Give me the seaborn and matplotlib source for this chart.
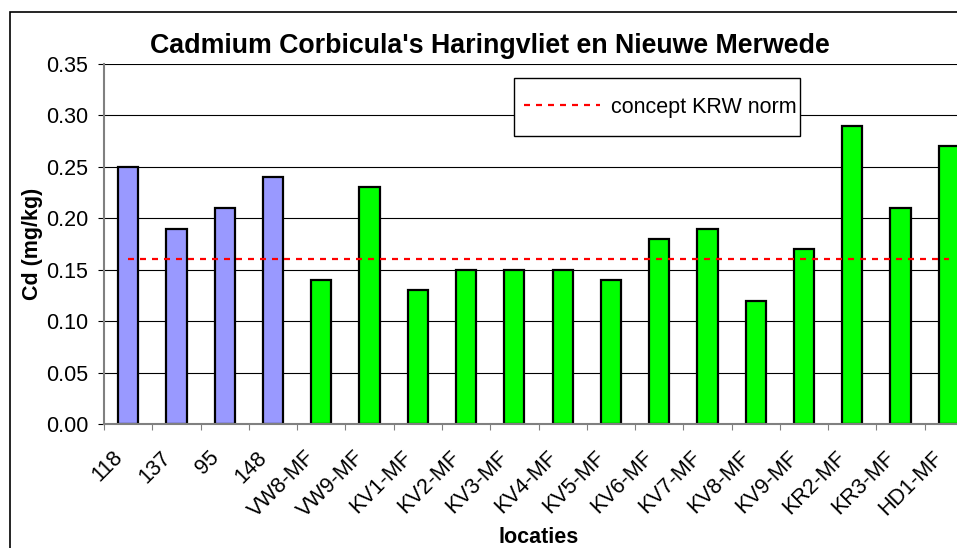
import matplotlib
matplotlib.use("Agg")
import matplotlib.pyplot as plt
import matplotlib.transforms as mtransforms
from matplotlib.patches import Rectangle
from matplotlib.lines import Line2D
import seaborn as sns
import pandas as pd

locaties = ["118", "137", "95", "148", "VW8-MF", "VW9-MF", "KV1-MF", "KV2-MF",
            "KV3-MF", "KV4-MF", "KV5-MF", "KV6-MF", "KV7-MF", "KV8-MF", "KV9-MF",
            "KR2-MF", "KR3-MF", "HD1-MF"]
cd = [0.25, 0.19, 0.21, 0.24, 0.14, 0.23, 0.13, 0.15, 0.15, 0.15, 0.14, 0.18,
      0.19, 0.12, 0.17, 0.29, 0.21, 0.27]
groep = ["Haringvliet"] * 4 + ["Nieuwe Merwede"] * 14
krw_norm = 0.16
kleuren = {"Haringvliet": "#9999FF", "Nieuwe Merwede": "#00FF00"}

df = pd.DataFrame({"locatie": locaties, "cd": cd, "groep": groep})

sns.set_style("white")
plt.rcParams["font.family"] = ["Liberation Sans", "DejaVu Sans"]
plt.rcParams["text.color"] = "black"
plt.rcParams["axes.labelcolor"] = "black"
plt.rcParams["xtick.labelcolor"] = "black"
plt.rcParams["ytick.labelcolor"] = "black"

W, H = 957, 548
fig = plt.figure(figsize=(W / 100, H / 100), dpi=100)
ax = fig.add_axes([104 / W, 1 - 424 / H, 869 / W, 360 / H])

ax.set_axisbelow(True)
ax.yaxis.grid(True, color="black", linewidth=0.8)
sns.barplot(data=df, x="locatie", y="cd", hue="groep", palette=kleuren,
            order=locaties, dodge=False, width=0.42, edgecolor="black",
            linewidth=1.6, saturation=1, legend=False, ax=ax)

# concept KRW norm
ax.plot(range(len(locaties)), [krw_norm] * len(locaties), color="red",
        linewidth=1.6, linestyle=(0, (2.7, 2.7)), zorder=5)

ax.set_xlim(-0.5, len(locaties) - 0.5)
ax.set_ylim(0, 0.35)
ax.set_yticks([0.0, 0.05, 0.10, 0.15, 0.20, 0.25, 0.30, 0.35])
ax.set_yticklabels([f"{v:.2f}" for v in ax.get_yticks()])
ax.tick_params(axis="y", left=True, length=4.3, width=0.8, color="black",
               labelsize=15.5, pad=7, labelcolor="black")
ax.set_xticks(range(len(locaties)))
ax.set_xticklabels(locaties, rotation=45, ha="right", rotation_mode="anchor",
                   va="center")
ax.tick_params(axis="x", which="major", length=0, labelsize=15.5, pad=22,
               labelcolor="black")
ax.set_xticks([i - 0.5 for i in range(len(locaties) + 1)], minor=True)
ax.tick_params(axis="x", which="minor", bottom=True, length=4.3, width=0.8,
               color="#808080")
shift = mtransforms.ScaledTranslation(-9 / 100, 0, fig.dpi_scale_trans)
for lab in ax.get_xticklabels():
    lab.set_transform(lab.get_transform() + shift)

for s in ["top", "right"]:
    ax.spines[s].set_visible(False)
for s in ["left", "bottom"]:
    ax.spines[s].set_color("#808080")
    ax.spines[s].set_linewidth(1.5)

ax.set_xlabel("locaties", fontsize=15.5, fontweight="bold", color="black")
ax.set_ylabel("Cd (mg/kg)", fontsize=15.5, fontweight="bold", color="black")
ax.xaxis.set_label_coords(0.5, -0.285)
ax.yaxis.set_label_coords(-0.070, 0.5)

fig.text(490 / W, 1 - 53 / H, "Cadmium Corbicula's Haringvliet en Nieuwe Merwede",
         ha="center", va="baseline", fontsize=19.3, fontweight="bold", color="black")

# outer chart border
fig.add_artist(Rectangle((10 / W, -0.1), 1.2, 1 - 12 / H + 0.1, transform=fig.transFigure,
                         fill=False, edgecolor="black", linewidth=1.2, clip_on=False))

# legend box
fig.add_artist(Rectangle((514 / W, 1 - 136 / H), 286 / W, 58 / H, transform=fig.transFigure,
                         facecolor="white", edgecolor="black", linewidth=1.0, zorder=3))
handle = Line2D([], [], color="red", linewidth=1.6, linestyle=(0, (2.7, 2.7)))
fig.legend(handles=[handle], labels=["concept KRW norm"], loc="center left",
           bbox_to_anchor=(524 / W, 1 - 107 / H), frameon=False, borderpad=0,
           borderaxespad=0, handlelength=3.55, handletextpad=0.47, fontsize=15.5,
           labelcolor="black")

fig.savefig("out.png", dpi=100)
